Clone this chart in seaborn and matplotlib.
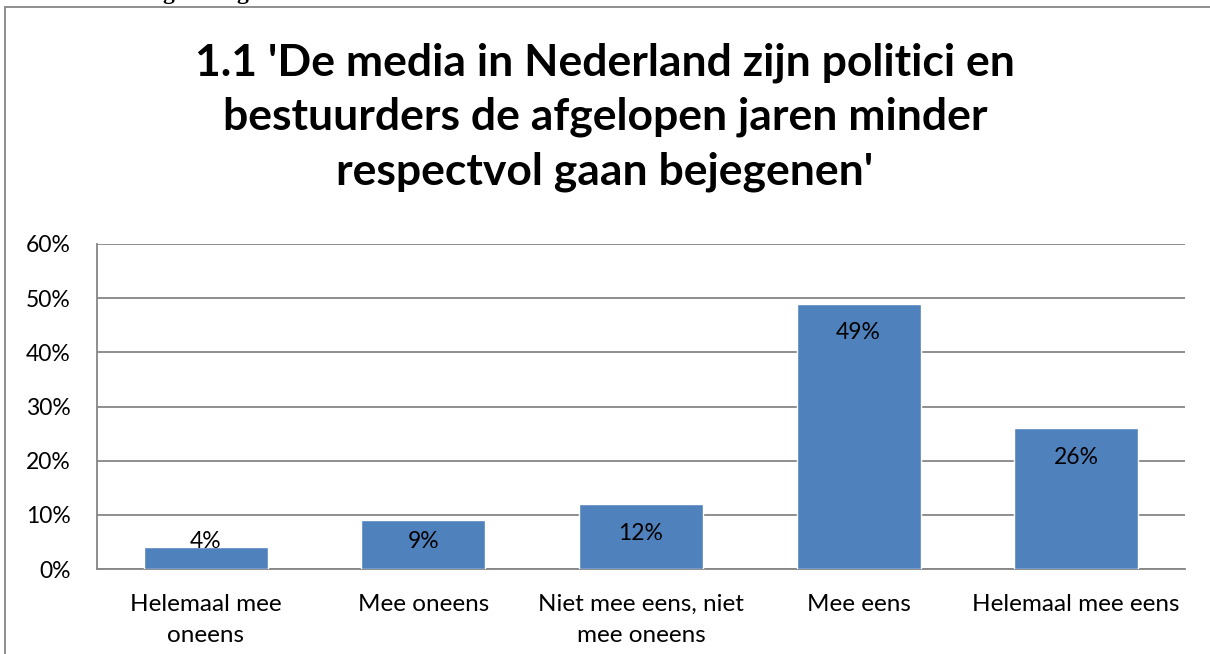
import matplotlib
matplotlib.use('Agg')
import matplotlib.pyplot as plt
import seaborn as sns
import pandas as pd
from matplotlib.patches import Rectangle

# data
categories = ['Helemaal mee\noneens', 'Mee oneens', 'Niet mee eens, niet\nmee oneens',
              'Mee eens', 'Helemaal mee eens']
values = [4, 9, 12, 49, 26]
value_labels = ['4%', '9%', '12%', '49%', '26%']
y_ticks = [0, 10, 20, 30, 40, 50, 60]
y_tick_labels = ['0%', '10%', '20%', '30%', '40%', '50%', '60%']
title = "1.1 'De media in Nederland zijn politici en\nbestuurders de afgelopen jaren minder\nrespectvol gaan bejegenen'"

sns.set_theme(style='white')
plt.rcParams['font.family'] = ['Lato', 'DejaVu Sans']

W, H = 1210, 654
fig = plt.figure(figsize=(W / 100, H / 100), dpi=100)
ax = fig.add_axes([97 / W, 1 - 569 / H, (1185 - 97) / W, (569 - 244) / H])

df = pd.DataFrame({'cat': categories, 'val': values})
sns.barplot(data=df, x='cat', y='val', color='#4F81BD', saturation=1,
            width=0.57, ax=ax, zorder=3)

ax.set_ylim(0, 60)
ax.set_yticks(y_ticks)
ax.set_yticklabels(y_tick_labels, fontsize=16.5, color='black')
ax.set_xlabel('')
ax.set_ylabel('')
ax.tick_params(axis='x', labelsize=17.5, colors='black', length=0, pad=18)
ax.tick_params(axis='y', length=0, pad=19)
for lbl in ax.get_xticklabels():
    lbl.set_linespacing(1.58)
ax.yaxis.grid(True, color='#868686', linewidth=1.3, zorder=0)
for s in ['top', 'right']:
    ax.spines[s].set_visible(False)
for s in ['left', 'bottom']:
    ax.spines[s].set_color('#868686')
    ax.spines[s].set_linewidth(1.3)

for i, (v, t) in enumerate(zip(values, value_labels)):
    ax.text(i, max(v - 5.4, 5.0), t, ha='center', va='center', fontsize=16.5,
            color='black', zorder=4)

fig.text(0.5, 1 - 117 / H, title, ha='center', va='center', fontsize=32,
         fontweight='bold', linespacing=1.43, color='black')

# chart frame
fig.patches.append(Rectangle((5 / W, -0.1), 1.2, 1 - 7 / H + 0.1, transform=fig.transFigure,
                             fill=False, edgecolor='#868686', linewidth=1.3))
# clipped heading above the chart
for gx in [168, 242]:
    fig.text(gx / W, 1 + 1 / H, 'g', ha='center', va='baseline', fontsize=17,
             fontweight='bold', family='Liberation Serif', color='black')

fig.savefig('out.png', dpi=100)
